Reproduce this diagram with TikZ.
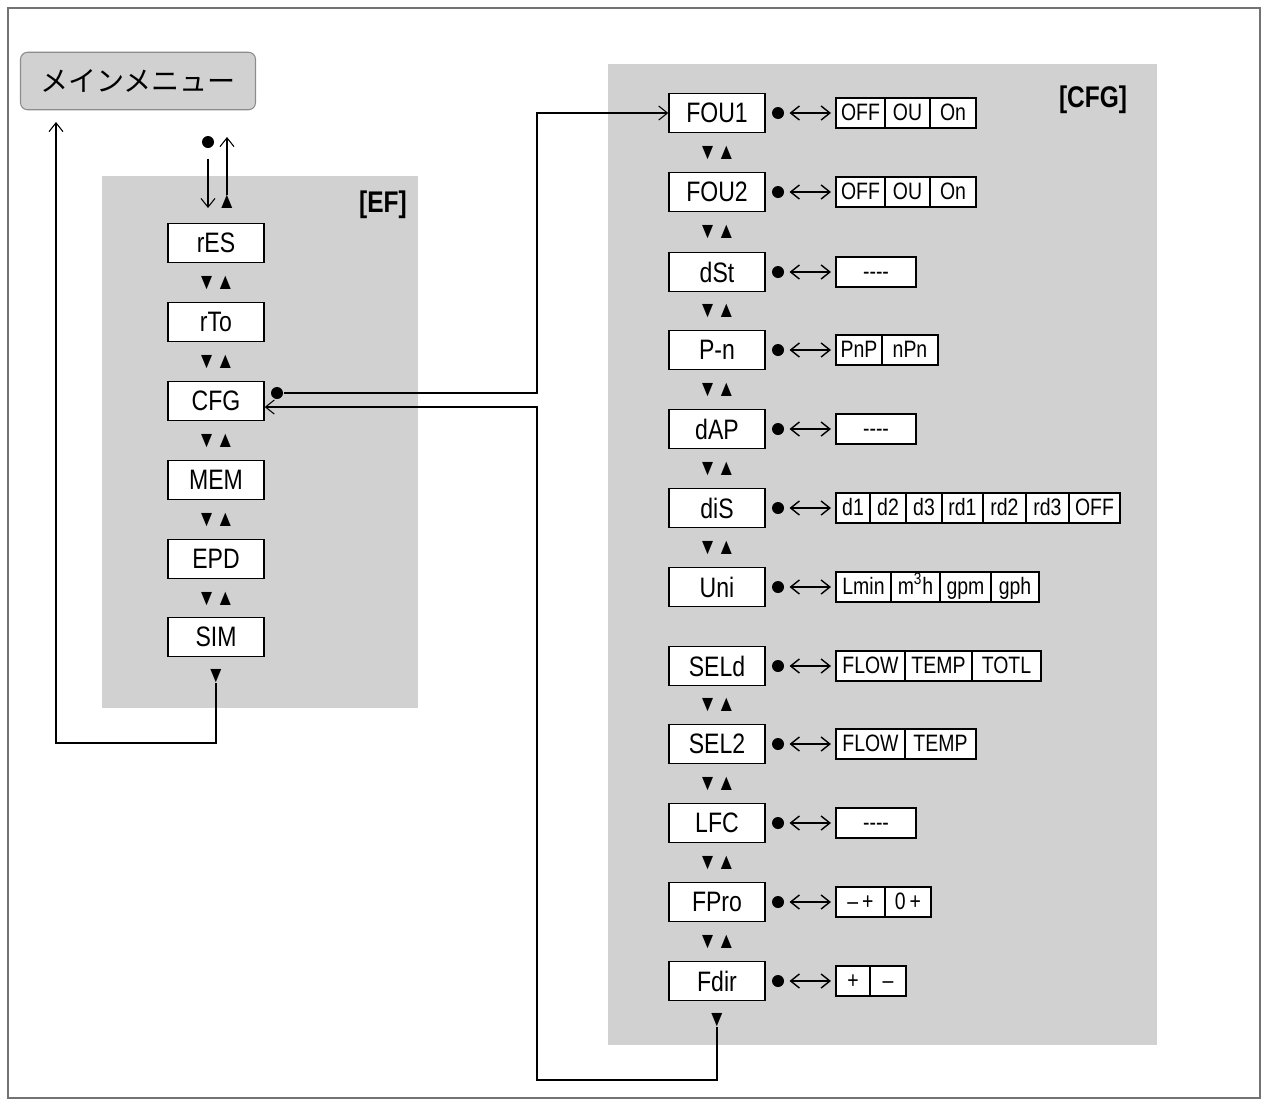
\documentclass[tikz,border=0pt]{standalone}
\usepackage{fontspec}
\setmainfont{Liberation Sans}[FakeStretch=0.82]
\newfontfamily\cjk{Noto Sans CJK JP}
\usetikzlibrary{arrows.meta}
\tikzset{>={Straight Barb[length=5pt,width=8pt]}}
\tikzset{
  menu/.style={draw,thick,fill=white,minimum width=1.92cm,minimum height=0.78cm,inner sep=0pt,font=\fontsize{16}{16}\selectfont},
  cell/.style={draw,thick,fill=white,minimum height=0.6cm,inner sep=0pt,text height=9.5pt,text depth=1.5pt,font=\fontsize{13.5}{13.5}\selectfont},
  tri/.style={font=\fontsize{13}{13}\selectfont,inner sep=0pt},
  panel/.style={fill=black!18,draw=none},
  dot/.style={circle,fill=black,inner sep=0pt,minimum size=0.24cm}
}
\begin{document}
\begin{tikzpicture}[x=0.02cm,y=-0.02cm,line width=0.6pt]
  \useasboundingbox (0,0) rectangle (1268,1106);
  \draw[black!55,line width=1.2pt] (8,8) rectangle (1260,1098);
  % main menu
  \node[draw=black!45,fill=black!18,rounded corners=4pt,minimum width=4.7cm,minimum height=1.15cm,font=\cjk\fontsize{16}{16}\selectfont] (main) at (138,81) {メインメニュー};
  % panels
  \fill[panel] (102,176) rectangle (418,708);
  \fill[panel] (608,64) rectangle (1157,1045);
  \node[font=\bfseries\fontsize{17}{17}\selectfont] (ef) at (383,205) {[EF]};
  \node[font=\bfseries\fontsize{17}{17}\selectfont] (cfg) at (1093,100) {[CFG]};
  % EF menu
  \foreach \n/\t/\y in {res/rES/243,rto/rTo/322,cf/CFG/401,mem/MEM/480,epd/EPD/559,sim/SIM/637}
    \node[menu] (\n) at (216,\y) {\t};
  \foreach \y in {283,362,441,520,599}
    \node[tri] at (216,\y) {▼▲};
  \node[tri] (simdn) at (216,676) {▼};
  \node[tri] (resup) at (227,202) {▲};
  \node[dot] (topdot) at (208,142) {};
  \coordinate (topin) at (208,208);
  \coordinate (topout) at (227,137);
  \draw[->] (topdot.south) ++(0,10) -- (topin);
  \draw[->] (resup.north) -- (topout);
  \coordinate (b1) at (216,743);
  \coordinate (b2) at (56,743);
  \coordinate (mainin) at (56,122);
  \draw[->] (simdn.south) -- (b1) -- (b2) -- (mainin);
  % CFG menu
  \foreach \n/\t/\y in {fa/FOU1/113,fb/FOU2/192,dst/dSt/272,pn/P-n/350,dap/dAP/429,dis/diS/508,uni/Uni/587,seld/SELd/666,selb/SEL2/744,lfc/LFC/823,fpro/FPro/902,fdir/Fdir/981}
    {\node[menu] (\n) at (717,\y) {\t};
     \node[dot] (\n d) at (778,\y) {};}
  \foreach \y in {153,232,311,390,469,548,705,784,863,942}
    \node[tri] at (717,\y) {▼▲};
  \node[tri] (fdirdn) at (717,1020) {▼};
  % option rows
  \foreach \r/\y/\cells in {
      fa/113/{836/885/OFF,885/930/OU,930/976/On},
      fb/192/{836/885/OFF,885/930/OU,930/976/On},
      dst/272/{836/916/{-}{-}{-}{-}},
      pn/350/{836/882/PnP,882/938/nPn},
      dap/429/{836/916/{-}{-}{-}{-}},
      dis/508/{836/870/d1,870/906/d2,906/942/d3,942/983/rd1,983/1026/rd2,1026/1069/rd3,1069/1120/OFF},
      uni/587/{836/891/Lmin,891/940/m\textsuperscript{3}h,940/991/gpm,991/1039/gph},
      seld/666/{836/905/FLOW,905/972/TEMP,972/1041/TOTL},
      selb/744/{836/905/FLOW,905/976/TEMP},
      lfc/823/{836/916/{-}{-}{-}{-}},
      fpro/902/{836/885/--\,+,885/931/0\,+},
      fdir/981/{836/870/+,870/906/--}}
  {
    \foreach \a/\b/\t in \cells
      \node[cell,minimum width=(\b-\a)*0.02cm] at ({(\a+\b)/2},\y) {\t};
    \coordinate (\r o) at (831,\y);
    \draw[<->,thick] (\r d.east) ++(5,0) -- (\r o);
  }
  % links EF <-> CFG
  \node[dot] (cfd) at (277,393) {};
  \coordinate (c1) at (537,393);
  \coordinate (c2) at (537,113);
  \draw[->] (cfd.east) -- (c1) -- (c2) -- (fa.west);
  \coordinate (r1) at (717,1080);
  \coordinate (r2) at (537,1080);
  \coordinate (r3) at (537,407);
  \draw[->] (fdirdn.south) -- (r1) -- (r2) -- (r3) -- (cf.east |- r3);
\end{tikzpicture}
\end{document}
